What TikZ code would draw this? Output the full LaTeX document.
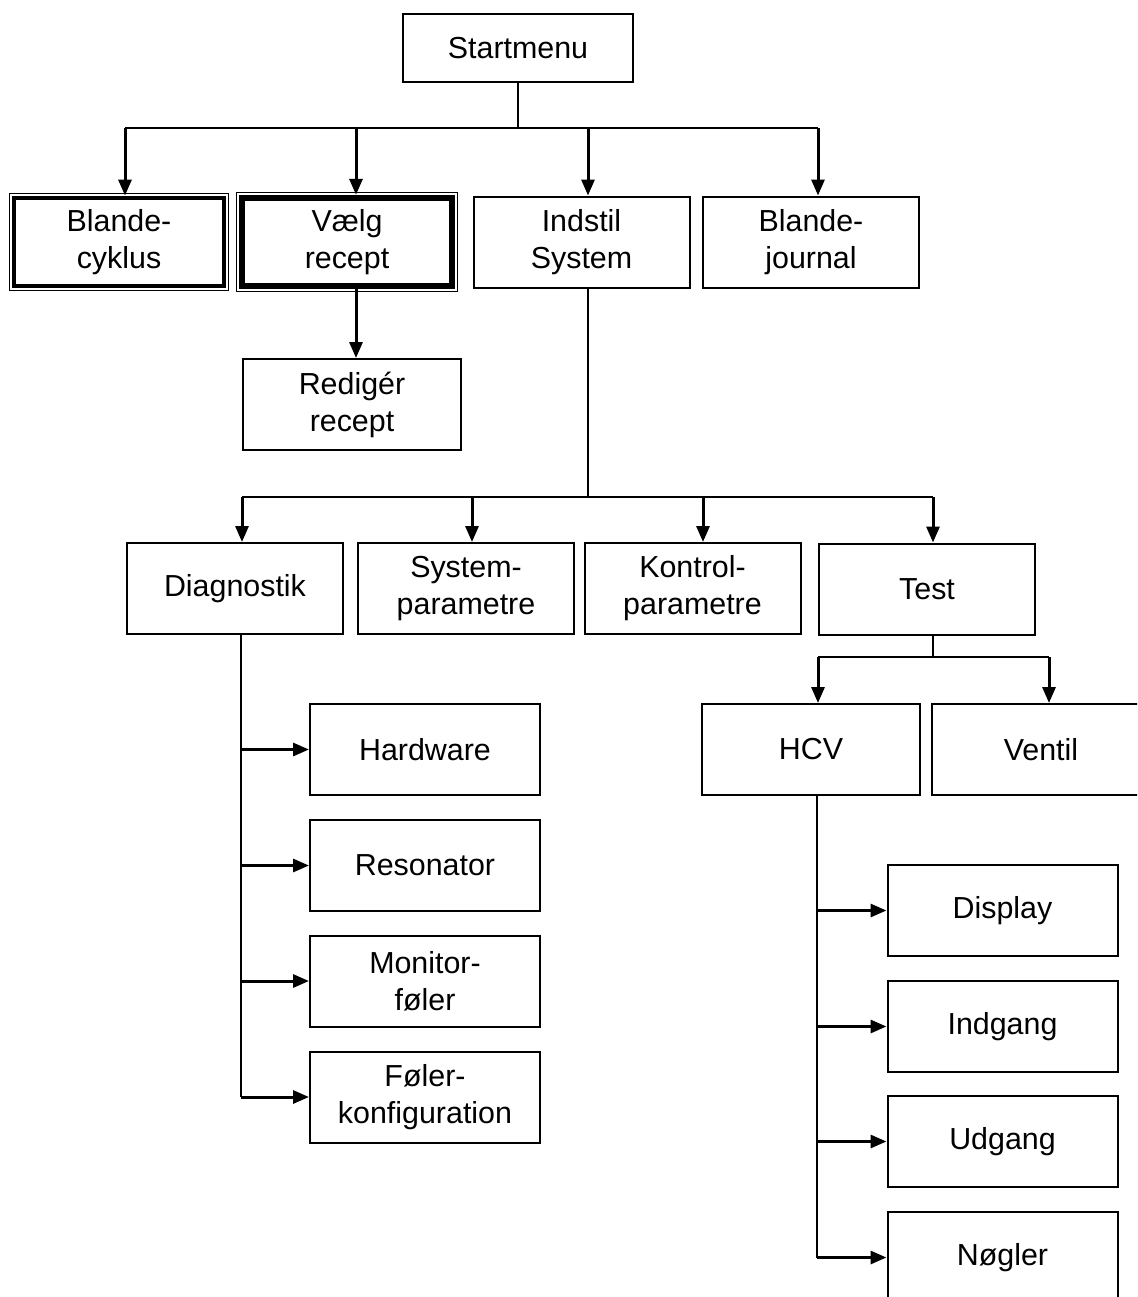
\documentclass[tikz,border=0pt]{standalone}
\usepackage{fontspec}
\setmainfont{Liberation Sans}
\usetikzlibrary{arrows.meta}

\begin{document}
\begin{tikzpicture}[x=0.5pt,y=-0.5pt,
  box/.style={draw, line width=1pt, minimum width=108pt, minimum height=45.5pt,
    inner sep=0pt, align=center, font=\fontsize{15.2}{18.5}\selectfont},
  heavy/.style={box, line width=#1, minimum height=44pt, minimum width=105pt},
  arr/.style={line width=1.5pt, -{Triangle[length=8pt,width=6.5pt]}},
  bus/.style={line width=1pt},
  branch/.style={line width=1.4pt}]
  \useasboundingbox (0,0) rectangle (1137,1297);
  \clip (0,0) rectangle (1137,1297);

  % --- top box ---
  \node[box, minimum width=115pt, minimum height=34pt] (start) at (518,48) {Startmenu};

  % --- first row ---
  \node[heavy=2.4pt] (cyk) at (119,242) {Blande-\\cyklus};
  \node[heavy=3.2pt] (vaelg) at (347,242) {Vælg\\recept};
  \node[box] (indstil) at (581.5,242) {Indstil\\System};
  \node[box] (jour) at (811,242) {Blande-\\journal};
  \node[box, minimum width=109pt] (redig) at (352,404.5) {Redigér\\recept};

  % --- thin frame round the two heavy boxes ---
  \foreach \n in {cyk,vaelg}
    \draw[line width=0.6pt] ([shift={(-1.2pt,1.2pt)}]\n.north west)
      rectangle ([shift={(1.2pt,-1.2pt)}]\n.south east);

  % --- second row ---
  \node[box] (diag) at (235,588.5) {Diagnostik};
  \node[box] (syspar) at (466,588.5) {System-\\parametre};
  \node[box] (kontrol) at (692.5,588.5) {Kontrol-\\parametre};
  \node[box] (test) at (927,589) {Test};

  % --- third row ---
  \node[box, minimum width=109pt] (hcv) at (811,749.5) {HCV};
  \node[box, minimum width=109pt] (ventil) at (1041,749.5) {Ventil};

  % --- Diagnostik column ---
  \foreach \n/\y/\t in {hw/749.5/Hardware, res/865.5/Resonator,
                        mon/981/Monitor-\\føler, fk/1097/Føler-\\konfiguration}
    \node[box, minimum width=115pt] (\n) at (425,\y) {\t};

  % --- HCV column ---
  \foreach \n/\y/\t in {disp/910.5/Display, indg/1026.5/Indgang,
                        udg/1141.5/Udgang, noeg/1257.5/Nøgler}
    \node[box, minimum width=115pt] (\n) at (1002.5,\y) {\t};

  % --- Startmenu -> first row ---
  \coordinate (b1) at ([yshift=-22.5pt]start.south);
  \draw[bus] (start.south) -- (b1);
  \foreach \n/\dx [count=\i] in {cyk/3,vaelg/4.5,indstil/3.25,jour/3.5}
    \coordinate (t\i) at ([xshift=\dx pt]\n.north);
  \draw[bus] (b1 -| t1) -- (b1 -| t4);
  \foreach \i in {1,...,4}
    \draw[arr] (b1 -| t\i) -- (t\i);

  % --- Vaelg recept -> Rediger recept ---
  \draw[arr] ([xshift=4.5pt]vaelg.south) -- ([xshift=2pt]redig.north);

  % --- Indstil System -> second row ---
  \coordinate (b2) at ([xshift=3.25pt,yshift=-104pt]indstil.south);
  \draw[bus] ([xshift=3.25pt]indstil.south) -- (b2);
  \foreach \n/\dx [count=\i] in {diag/3.5,syspar/3,kontrol/5.25,test/3}
    \coordinate (u\i) at ([xshift=\dx pt]\n.north);
  \draw[bus] (b2 -| u1) -- (b2 -| u4);
  \foreach \i in {1,...,4}
    \draw[arr] (b2 -| u\i) -- (u\i);

  % --- Test -> HCV, Ventil ---
  \coordinate (b3) at ([xshift=3pt,yshift=-10.75pt]test.south);
  \draw[bus] ([xshift=3pt]test.south) -- (b3);
  \coordinate (v1) at ([xshift=3.5pt]hcv.north);
  \coordinate (v2) at ([xshift=4pt]ventil.north);
  \draw[bus] (b3 -| v1) -- (b3 -| v2);
  \foreach \i in {1,2}
    \draw[arr] (b3 -| v\i) -- (v\i);

  % --- Diagnostik branch ---
  \coordinate (dl) at ([xshift=3pt]diag.south);
  \draw[branch] (dl) -- (dl |- fk.west);
  \foreach \n in {hw,res,mon,fk}
    \draw[arr] (dl |- \n.west) -- (\n.west);

  % --- HCV branch ---
  \coordinate (hl) at ([xshift=3pt]hcv.south);
  \draw[branch] (hl) -- (hl |- noeg.west);
  \foreach \n in {disp,indg,udg,noeg}
    \draw[arr] (hl |- \n.west) -- (\n.west);
\end{tikzpicture}
\end{document}
